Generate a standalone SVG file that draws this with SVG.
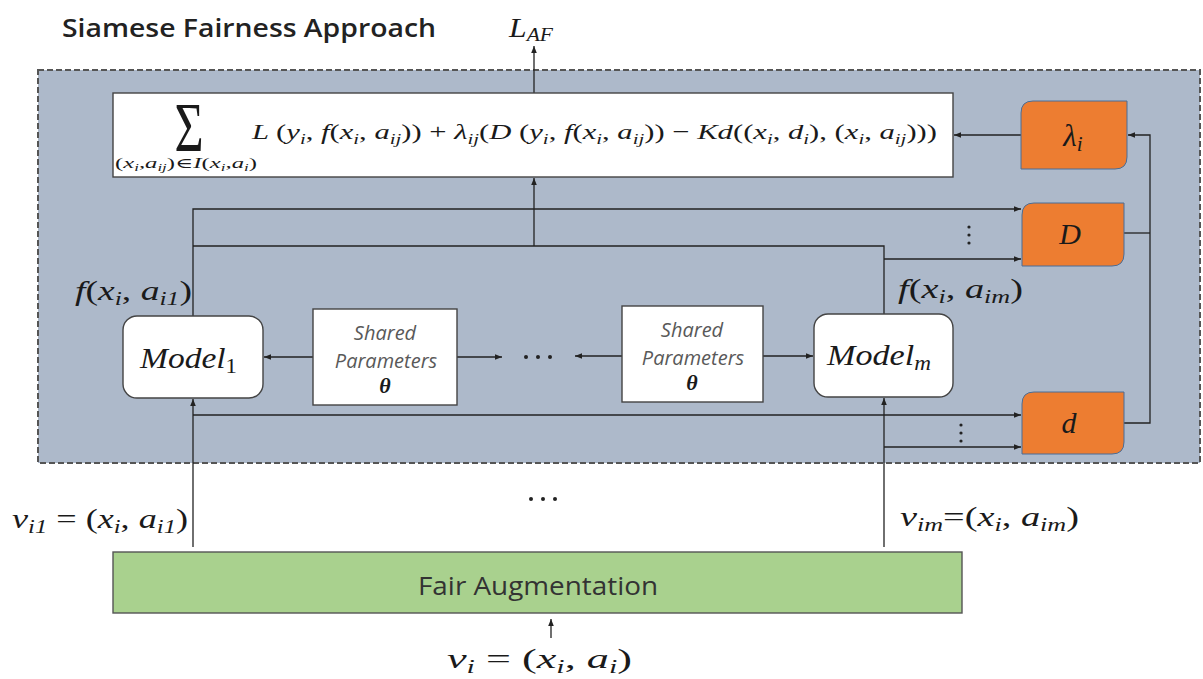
<svg xmlns="http://www.w3.org/2000/svg" width="1203" height="679" viewBox="0 0 1203 679">
  <defs>
    <marker id="ah" viewBox="0 0 10 10" refX="10" refY="5" markerWidth="7" markerHeight="7" orient="auto-start-reverse" markerUnits="userSpaceOnUse">
      <path d="M0,1 L10,5 L0,9 z" fill="#222"/>
    </marker>
    <style>
      .m { font-family: "Liberation Serif", "DejaVu Serif", serif; font-style: italic; fill: #1a1a1a; }
      .u { font-style: normal; }
      .s { font-size: 0.68em; }
      .box { fill: #ffffff; stroke: #444; stroke-width: 1.4; }
      .org { fill: #ed7d31; stroke: #4a6d96; stroke-width: 1; }
      .sp { font-family: "Open Sans", "Liberation Sans", sans-serif; font-style: italic; font-size: 20px; fill: #595959; text-anchor: middle; }
      .th { font-family: "Liberation Serif", serif; font-style: italic; font-weight: bold; font-size: 22px; fill: #1a1a1a; text-anchor: middle; }
      .wire { fill: none; stroke: #222; stroke-width: 1.3; }
      .dot { fill: #222; }
    </style>
  </defs>

  <rect width="1203" height="679" fill="#ffffff"/>

  <!-- title -->
  <text x="62" y="37" font-family="Open Sans, Liberation Sans, sans-serif" font-weight="600" font-size="25" fill="#222" textLength="374" lengthAdjust="spacingAndGlyphs">Siamese Fairness Approach</text>

  <!-- dashed container -->
  <rect id="container" x="38" y="70" width="1162" height="393" fill="#adb9ca" stroke="#555" stroke-width="2" stroke-dasharray="6,3"/>

  <!-- connectors -->
  <g id="connectors">
    <path class="wire" d="M534,93 V46" marker-end="url(#ah)"/>
    <path class="wire" d="M1021,135 H954" marker-end="url(#ah)"/>
    <path class="wire" d="M1124,233 H1150"/>
    <path class="wire" d="M1124,423 H1150 V135 H1128" marker-end="url(#ah)"/>
    <path class="wire" d="M193,316 V209 H1021" marker-end="url(#ah)"/>
    <path class="wire" d="M884,315 V246 H193"/>
    <path class="wire" d="M534,246 V178" marker-end="url(#ah)"/>
    <path class="wire" d="M884,259 H1021" marker-end="url(#ah)"/>
    <path class="wire" d="M313,357 H264" marker-end="url(#ah)"/>
    <path class="wire" d="M457,357 H502" marker-end="url(#ah)"/>
    <path class="wire" d="M622,356 H575" marker-end="url(#ah)"/>
    <path class="wire" d="M763,356 H813" marker-end="url(#ah)"/>
    <path class="wire" d="M193,547 V399" marker-end="url(#ah)"/>
    <path class="wire" d="M193,415 H1021" marker-end="url(#ah)"/>
    <path class="wire" d="M884,547 V398" marker-end="url(#ah)"/>
    <path class="wire" d="M884,447 H1021" marker-end="url(#ah)"/>
    <path class="wire" d="M551,638 V619" marker-end="url(#ah)"/>
    <!-- ellipses -->
    <circle class="dot" cx="526" cy="357" r="2"/>
    <circle class="dot" cx="538" cy="357" r="2"/>
    <circle class="dot" cx="550" cy="357" r="2"/>
    <circle class="dot" cx="531" cy="499" r="2"/>
    <circle class="dot" cx="543" cy="499" r="2"/>
    <circle class="dot" cx="555" cy="499" r="2"/>
    <circle class="dot" cx="969" cy="227" r="1.6"/>
    <circle class="dot" cx="969" cy="235" r="1.6"/>
    <circle class="dot" cx="969" cy="243" r="1.6"/>
    <circle class="dot" cx="961" cy="425" r="1.6"/>
    <circle class="dot" cx="961" cy="433" r="1.6"/>
    <circle class="dot" cx="961" cy="441" r="1.6"/>
  </g>

  <!-- output label -->
  <text class="m" x="509" y="37" font-size="27" textLength="44" lengthAdjust="spacingAndGlyphs">L<tspan class="s" dy="4">AF</tspan></text>

  <!-- loss formula -->
  <g id="loss">
    <rect class="box" x="113" y="93" width="840" height="84"/>
    <text class="m u" transform="translate(189,151) scale(1,1.4)" font-size="50" text-anchor="middle">Σ</text>
    <text class="m" x="115" y="168" font-size="14" textLength="142" lengthAdjust="spacingAndGlyphs"><tspan class="u">(</tspan>x<tspan class="s" dy="3">i</tspan><tspan class="u" dy="-3">,</tspan>a<tspan class="s" dy="3">ij</tspan><tspan class="u" dy="-3">)∈</tspan>I<tspan class="u">(</tspan>x<tspan class="s" dy="3">i</tspan><tspan class="u" dy="-3">,</tspan>a<tspan class="s" dy="3">i</tspan><tspan class="u" dy="-3">)</tspan></text>
    <text class="m" x="252" y="139" font-size="22" textLength="685" lengthAdjust="spacingAndGlyphs">L <tspan class="u">(</tspan>y<tspan class="s" dy="5">i</tspan><tspan class="u" dy="-5">, </tspan>f<tspan class="u">(</tspan>x<tspan class="s" dy="5">i</tspan><tspan class="u" dy="-5">, </tspan>a<tspan class="s" dy="5">ij</tspan><tspan class="u" dy="-5">)) + </tspan>λ<tspan class="s" dy="5">ij</tspan><tspan class="u" dy="-5">(</tspan>D <tspan class="u">(</tspan>y<tspan class="s" dy="5">i</tspan><tspan class="u" dy="-5">, </tspan>f<tspan class="u">(</tspan>x<tspan class="s" dy="5">i</tspan><tspan class="u" dy="-5">, </tspan>a<tspan class="s" dy="5">ij</tspan><tspan class="u" dy="-5">)) − </tspan>Kd<tspan class="u">((</tspan>x<tspan class="s" dy="5">i</tspan><tspan class="u" dy="-5">, </tspan>d<tspan class="s" dy="5">i</tspan><tspan class="u" dy="-5">), (</tspan>x<tspan class="s" dy="5">i</tspan><tspan class="u" dy="-5">, </tspan>a<tspan class="s" dy="5">ij</tspan><tspan class="u" dy="-5">)))</tspan></text>
  </g>

  <!-- weight node -->
  <g id="lambda">
    <path class="org" d="M1033,101 H1127 V157 Q1127,169 1115,169 H1021 V113 Q1021,101 1033,101 Z"/>
    <text class="m" x="1073" y="146" font-size="31" text-anchor="middle">λ<tspan class="s" dy="5">i</tspan></text>
  </g>

  <!-- output distance node -->
  <g id="D">
    <path class="org" d="M1034,203 H1124 V254 Q1124,266 1112,266 H1022 V215 Q1022,203 1034,203 Z"/>
    <text class="m" x="1070" y="244" font-size="30" text-anchor="middle">D</text>
  </g>

  <!-- input distance node -->
  <g id="d">
    <path class="org" d="M1034,392 H1124 V442 Q1124,454 1112,454 H1022 V404 Q1022,392 1034,392 Z"/>
    <text class="m" x="1069" y="433" font-size="30" text-anchor="middle">d</text>
  </g>

  <!-- first model -->
  <g id="model1">
    <rect class="box" x="123" y="316" width="140" height="82" rx="14"/>
    <text class="m" x="140" y="368" font-size="30" textLength="97" lengthAdjust="spacingAndGlyphs">Model<tspan class="u s" dy="5">1</tspan></text>
  </g>

  <!-- last model -->
  <g id="modelm">
    <rect class="box" x="814" y="314" width="139" height="83" rx="14"/>
    <text class="m" x="827" y="365" font-size="30" textLength="104" lengthAdjust="spacingAndGlyphs">Model<tspan class="s" dy="5">m</tspan></text>
  </g>

  <!-- shared parameter blocks -->
  <g id="shared1">
    <rect class="box" x="313" y="309" width="144" height="96" stroke-width="1.2"/>
    <text class="sp" x="385" y="340">Shared</text>
    <text class="sp" x="386" y="368">Parameters</text>
    <text class="th" x="385" y="393">θ</text>
  </g>
  <g id="shared2">
    <rect class="box" x="622" y="306" width="141" height="96" stroke-width="1.2"/>
    <text class="sp" x="692" y="337">Shared</text>
    <text class="sp" x="693" y="365">Parameters</text>
    <text class="th" x="692" y="390">θ</text>
  </g>

  <!-- model output labels -->
  <text class="m" x="75" y="300" font-size="27" textLength="117" lengthAdjust="spacingAndGlyphs">f<tspan class="u">(</tspan>x<tspan class="s" dy="5">i</tspan><tspan class="u" dy="-5">, </tspan>a<tspan class="s" dy="5">i1</tspan><tspan class="u" dy="-5">)</tspan></text>
  <text class="m" x="898" y="298" font-size="27" textLength="125" lengthAdjust="spacingAndGlyphs">f<tspan class="u">(</tspan>x<tspan class="s" dy="5">i</tspan><tspan class="u" dy="-5">, </tspan>a<tspan class="s" dy="5">im</tspan><tspan class="u" dy="-5">)</tspan></text>

  <!-- augmented input labels -->
  <text class="m" x="12" y="528" font-size="27" textLength="176" lengthAdjust="spacingAndGlyphs">v<tspan class="s" dy="5">i1</tspan><tspan class="u" dy="-5"> = (</tspan>x<tspan class="s" dy="5">i</tspan><tspan class="u" dy="-5">, </tspan>a<tspan class="s" dy="5">i1</tspan><tspan class="u" dy="-5">)</tspan></text>
  <text class="m" x="900" y="526" font-size="27" textLength="179" lengthAdjust="spacingAndGlyphs">v<tspan class="s" dy="5">im</tspan><tspan class="u" dy="-5">=(</tspan>x<tspan class="s" dy="5">i</tspan><tspan class="u" dy="-5">, </tspan>a<tspan class="s" dy="5">im</tspan><tspan class="u" dy="-5">)</tspan></text>

  <!-- augmentation block -->
  <g id="augmentation">
    <rect x="113" y="552" width="849" height="61" fill="#a9d18e" stroke="#555" stroke-width="1.4"/>
    <text x="538" y="595" font-family="Open Sans, Liberation Sans, sans-serif" font-size="25" fill="#333" text-anchor="middle" textLength="240" lengthAdjust="spacingAndGlyphs">Fair Augmentation</text>
  </g>

  <!-- raw input label -->
  <text class="m" x="447" y="668" font-size="27" textLength="185" lengthAdjust="spacingAndGlyphs">v<tspan class="s" dy="5">i</tspan><tspan class="u" dy="-5"> = (</tspan>x<tspan class="s" dy="5">i</tspan><tspan class="u" dy="-5">, </tspan>a<tspan class="s" dy="5">i</tspan><tspan class="u" dy="-5">)</tspan></text>
</svg>
